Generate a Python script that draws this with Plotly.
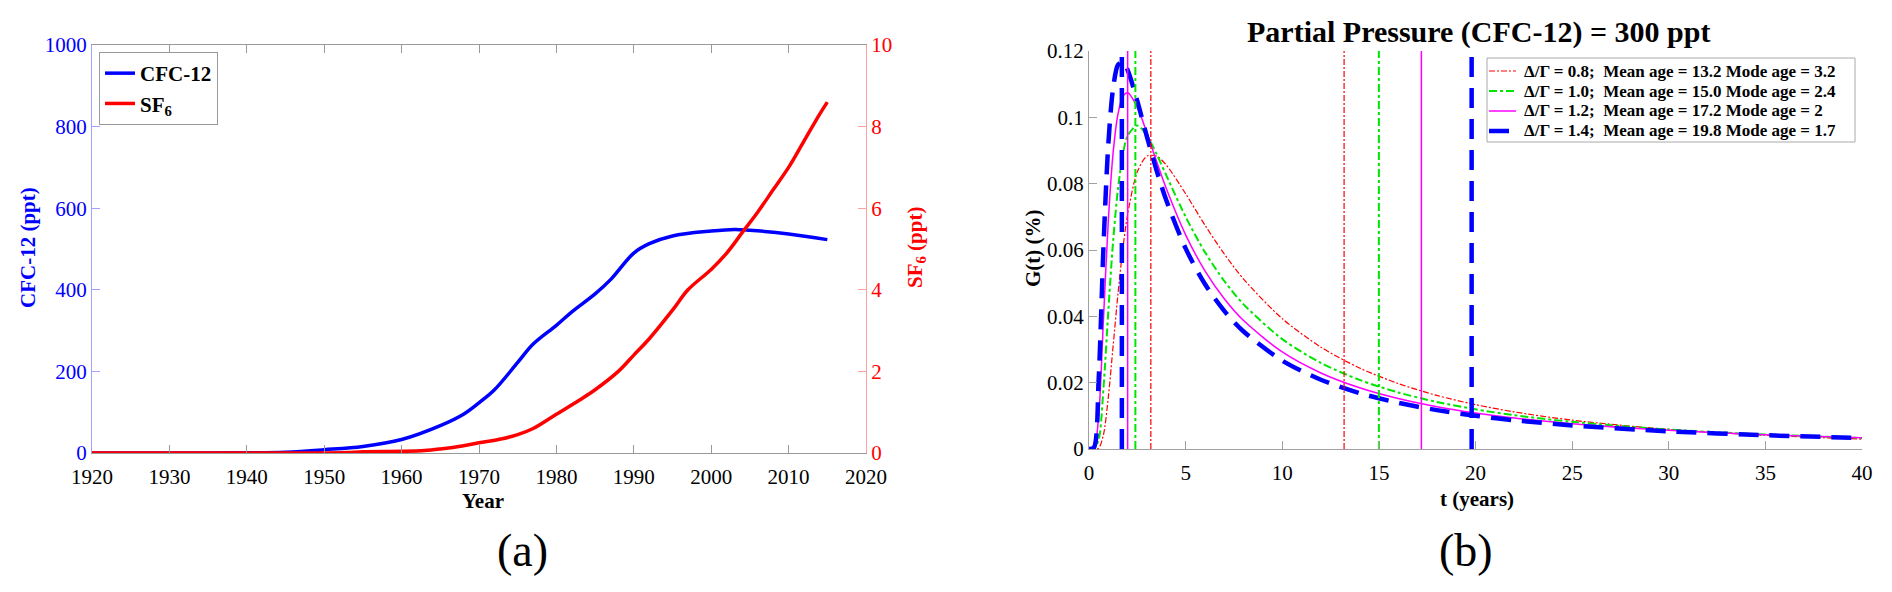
import plotly.graph_objects as go

# page body has an 8px margin, so the figure is drawn 16px smaller than the window
W, H = 1876, 576
OFF = 8
FONT = "Times New Roman, Liberation Serif, DejaVu Serif, serif"

# (a) atmospheric histories
years_cfc = [1920, 1930, 1940, 1945, 1950, 1955, 1960, 1965, 1968, 1970, 1972, 1975,
             1977, 1980, 1982, 1985, 1987, 1990, 1992, 1995, 2000, 2003, 2005, 2010, 2015]
cfc12 = [0, 0, 0.5, 2, 8, 16, 33, 67, 95, 123, 155, 222,
         267, 313, 346, 390, 425, 490, 513, 532, 544, 548, 546, 537, 523]

years_sf6 = [1920, 1950, 1953, 1955, 1960, 1963, 1965, 1968, 1970, 1973, 1975, 1977, 1980,
             1983, 1985, 1988, 1990, 1992, 1995, 1997, 2000, 2002, 2004, 2006, 2008, 2010,
             2012, 2014, 2015]
sf6 = [0, 0, 0.01, 0.03, 0.04, 0.06, 0.1, 0.18, 0.25, 0.35, 0.45, 0.6, 0.95,
       1.3, 1.55, 2.0, 2.4, 2.8, 3.5, 4.0, 4.5, 4.9, 5.4, 5.9, 6.45, 7.0,
       7.65, 8.3, 8.6]

# (b) transit time distributions
t_years = [0, 0.25, 0.5, 0.75, 1, 1.25, 1.5, 1.75, 2, 2.5, 3, 3.5, 4, 5, 6, 7, 8,
           10, 12, 14, 16, 18, 20, 22, 25, 30, 35, 40]
g_08 = [0, 0, 0.00026, 0.00435, 0.01566, 0.03117, 0.04683, 0.06029, 0.07078, 0.08357,
        0.08834, 0.08830, 0.08561, 0.07697, 0.06750, 0.05880, 0.05123, 0.03930, 0.03071,
        0.02442, 0.01973, 0.01615, 0.01338, 0.01119, 0.00869, 0.00590, 0.00414, 0.00298]
g_10 = [0, 0, 0.00279, 0.01846, 0.04166, 0.06284, 0.07850, 0.08868, 0.09448, 0.09754,
        0.09448, 0.08889, 0.08250, 0.07002, 0.05936, 0.05066, 0.04360, 0.03314, 0.02596,
        0.02083, 0.01705, 0.01419, 0.01196, 0.01020, 0.00818, 0.00587, 0.00436, 0.00333]
g_12 = [0, 0.00007, 0.00990, 0.03933, 0.06895, 0.08942, 0.10101, 0.10630, 0.10740, 0.10308,
        0.09520, 0.08666, 0.07852, 0.06457, 0.05372, 0.04531, 0.03872, 0.02926, 0.02293,
        0.01847, 0.01522, 0.01276, 0.01086, 0.00935, 0.00761, 0.00562, 0.00430, 0.00338]
g_14 = [0, 0.00038, 0.02089, 0.06114, 0.09198, 0.10888, 0.11581, 0.11674, 0.11424, 0.10489,
        0.09413, 0.08397, 0.07497, 0.06048, 0.04973, 0.04164, 0.03542, 0.02665, 0.02088,
        0.01685, 0.01393, 0.01173, 0.01002, 0.00868, 0.00712, 0.00534, 0.00415, 0.00332]

ratios = ["0.8", "1.0", "1.2", "1.4"]
mean_ages = [13.2, 15.0, 17.2, 19.8]
mode_ages = [3.2, 2.4, 2, 1.7]
mode_labels = ["3.2", "2.4", "2", "1.7"]
y_ticks = [0, 0.02, 0.04, 0.06, 0.08, 0.1, 0.12]
y_ticktext = ["0", "0.02", "0.04", "0.06", "0.08", "0.1", "0.12"]


def px_x(x):
    # screen pixel -> paper fraction
    return (x - OFF) / W


def px_y(y):
    return 1 - (y - OFF) / H


fig = go.Figure()

fig.add_trace(go.Scatter(x=years_cfc, y=cfc12, mode="lines", name="CFC-12",
                         line=dict(color="#0000ff", width=3.5, shape="spline"),
                         xaxis="x", yaxis="y"))
fig.add_trace(go.Scatter(x=years_sf6, y=sf6, mode="lines", name="SF<sub>6</sub>",
                         line=dict(color="#ff0000", width=3.5, shape="spline"),
                         xaxis="x", yaxis="y2"))

styles = [
    dict(color="#ff0000", width=1.2, dash="6px,2px,2px,2px"),
    dict(color="#00e600", width=2, dash="8px,3px,3px,3px"),
    dict(color="#ff00ff", width=1.5, dash="solid"),
    dict(color="#0000ff", width=4.5, dash="20px,11px"),
]
curves = [g_08, g_10, g_12, g_14]

for i, g in enumerate(curves):
    fig.add_trace(go.Scatter(x=t_years, y=g, mode="lines", showlegend=False,
                             line=dict(shape="spline", smoothing=0.8, **styles[i]),
                             xaxis="x3", yaxis="y3"))

# mode and mean age markers
for i in range(4):
    for age in (mode_ages[i], mean_ages[i]):
        fig.add_trace(go.Scatter(x=[age, age], y=[0, 0.12], mode="lines",
                                 line=styles[i], showlegend=False,
                                 xaxis="x3", yaxis="y3", hoverinfo="skip"))

tick_font = dict(family=FONT, size=21, color="black")
bold = dict(family=FONT, weight="bold")
common = dict(showgrid=False, zeroline=False, automargin=False, showline=True,
              ticks="inside", ticklen=8)

fig.update_layout(
    width=W, height=H,
    margin=dict(l=0, r=0, t=0, b=0, autoexpand=False),
    paper_bgcolor="white", plot_bgcolor="white",
    font=dict(family=FONT, color="black"),
    xaxis=dict(domain=[px_x(92), px_x(866)], anchor="y", range=[1920, 2020], dtick=10,
               linecolor="#999999", mirror="ticks", tickcolor="#999999",
               tickfont=tick_font, ticklabelstandoff=5, **common),
    yaxis=dict(domain=[px_y(453), px_y(45)], anchor="x", range=[0, 1000], dtick=200,
               linecolor="#a0a0ff", tickcolor="#a0a0ff",
               tickfont=dict(family=FONT, size=21, color="#0000ff"), **common),
    yaxis2=dict(overlaying="y", side="right", anchor="x", range=[0, 10], dtick=2,
                linecolor="#ffa0a0", tickcolor="#ffa0a0",
                tickfont=dict(family=FONT, size=21, color="#ff0000"), **common),
    xaxis3=dict(domain=[px_x(1089), px_x(1862)], anchor="y3", range=[0, 40], dtick=5,
                linecolor="#a0a0a0", tickcolor="#a0a0a0", tickfont=tick_font,
                ticklabelstandoff=5, **common),
    yaxis3=dict(domain=[px_y(449), px_y(51)], anchor="x3", range=[0, 0.12],
                tickvals=y_ticks, ticktext=y_ticktext,
                linecolor="#a0a0a0", tickcolor="#a0a0a0", tickfont=tick_font, **common),
    legend=dict(x=px_x(99), y=px_y(52), xanchor="left", yanchor="top",
                bordercolor="#999999", borderwidth=1, bgcolor="white",
                font=dict(size=21, **bold), itemwidth=30, tracegroupgap=0),
)

# legend box for panel (b), drawn by hand so the rows sit as tight as the original
fig.add_shape(type="rect", xref="paper", yref="paper",
              x0=px_x(1487), x1=px_x(1855), y0=px_y(142), y1=px_y(58),
              line=dict(color="#aaaaaa", width=1), fillcolor="white", layer="above")
for i in range(4):
    row_y = 71 + 20 * i
    fig.add_shape(type="line", xref="paper", yref="paper",
                  x0=px_x(1489), x1=px_x(1516), y0=px_y(row_y), y1=px_y(row_y),
                  line=styles[i], layer="above")
    label = ("Δ/Γ = " + ratios[i] + ";&nbsp;&nbsp;Mean age = " + f"{mean_ages[i]:.1f}"
             + " Mode age = " + mode_labels[i])
    fig.add_annotation(text=label, x=px_x(1522), y=px_y(row_y), xref="paper", yref="paper",
                       showarrow=False, xanchor="left", yanchor="middle",
                       font=dict(size=17, **bold))

annotations = [
    dict(text="CFC-12 (ppt)", x=28, y=248, angle=-90, font=dict(size=21, color="#0000ff", **bold)),
    dict(text="SF<sub>6</sub> (ppt)", x=916, y=248, angle=-90,
         font=dict(size=21, color="#ff0000", **bold)),
    dict(text="Year", x=483, y=501, angle=0, font=dict(size=21, **bold)),
    dict(text="(a)", x=522, y=550, angle=0, font=dict(family=FONT, size=46)),
    dict(text="Partial Pressure (CFC-12) = 300 ppt", x=1478, y=32, angle=0,
         font=dict(size=30, **bold)),
    dict(text="G(t) (%)", x=1033, y=248, angle=-90, font=dict(size=21, **bold)),
    dict(text="t (years)", x=1477, y=499, angle=0, font=dict(size=21, **bold)),
    dict(text="(b)", x=1466, y=550, angle=0, font=dict(family=FONT, size=46)),
]
for a in annotations:
    fig.add_annotation(text=a["text"], x=px_x(a["x"]), y=px_y(a["y"]), xref="paper",
                       yref="paper", showarrow=False, textangle=a["angle"],
                       xanchor="center", yanchor="middle", font=a["font"])

fig.write_html("out.html")
